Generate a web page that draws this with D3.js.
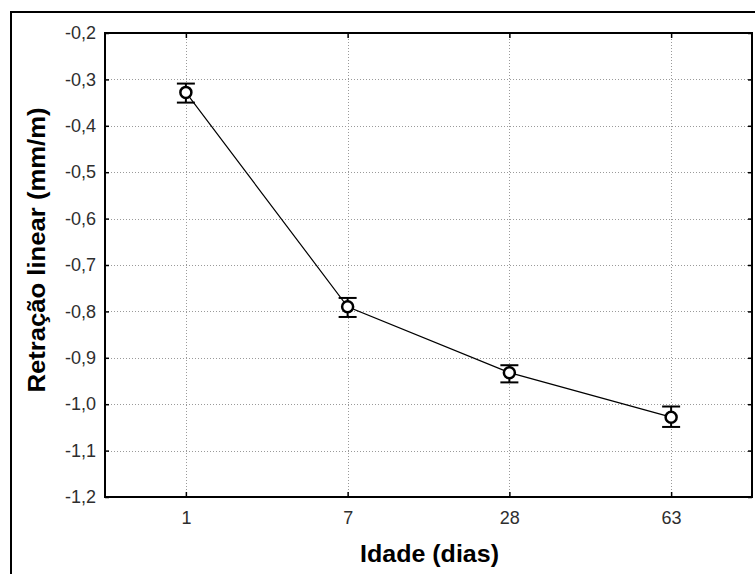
<!DOCTYPE html>
<html>
<head>
<meta charset="utf-8">
<script src="https://cdn.jsdelivr.net/npm/d3@7"></script>
<style>
  html, body { margin: 0; padding: 0; background: #fff; }
  svg { display: block; }
</style>
</head>
<body>
<svg id="chart" width="755" height="574"></svg>
<script>
// Linear shrinkage by age: mean with error interval
const ages = ["1", "7", "28", "63"];
const meanShrinkage = [-0.328, -0.790, -0.932, -1.028];
const lowerBound = [-0.350, -0.812, -0.953, -1.049];
const upperBound = [-0.309, -0.771, -0.916, -1.005];
const yTicks = [-0.2, -0.3, -0.4, -0.5, -0.6, -0.7, -0.8, -0.9, -1.0, -1.1, -1.2];
const yTickLabels = ["-0,2", "-0,3", "-0,4", "-0,5", "-0,6", "-0,7", "-0,8", "-0,9", "-1,0", "-1,1", "-1,2"];

const svg = d3.select("#chart");
const plotLeft = 105, plotTop = 33, plotRight = 752, plotBottom = 497;

const x = d3.scalePoint().domain(ages).range([plotLeft, plotRight]).padding(0.5);
const y = d3.scaleLinear().domain([-1.2, -0.2]).range([plotBottom, plotTop]);

// outer frame
svg.append("path")
  .attr("d", `M11,580 L11,12 L760,12`)
  .attr("fill", "none").attr("stroke", "#000").attr("stroke-width", 2);

// grid
const grid = svg.append("g").attr("stroke", "#9a9a9a").attr("stroke-width", 1)
  .attr("stroke-dasharray", "1,2");
grid.selectAll(".gy").data(yTicks.slice(1, -1)).join("line")
  .attr("x1", plotLeft).attr("x2", plotRight)
  .attr("y1", d => Math.round(y(d)) + 0.5).attr("y2", d => Math.round(y(d)) + 0.5);
grid.selectAll(".gx").data(ages).join("line")
  .attr("y1", plotTop).attr("y2", plotBottom)
  .attr("x1", d => Math.round(x(d)) + 0.5).attr("x2", d => Math.round(x(d)) + 0.5);

// axes with inward ticks on all four sides
const tickLabelFor = d => yTickLabels[yTicks.findIndex(v => Math.abs(v - d) < 1e-9)];
const yAxis = d3.axisLeft(y).tickValues(yTicks).tickFormat(tickLabelFor).tickSizeInner(-4).tickSizeOuter(0).tickPadding(9);
const xAxis = d3.axisBottom(x).tickSizeInner(-5).tickSizeOuter(0).tickPadding(14);

function styleAxis(g, showText) {
  g.select(".domain").remove();
  g.selectAll(".tick line").attr("stroke", "#000").attr("stroke-width", 1.5);
  g.selectAll(".tick text")
    .attr("fill", "#2e2e2e")
    .style("font-family", "Arial, 'Liberation Sans', sans-serif")
    .style("font-size", "18px")
    .style("display", showText ? null : "none");
}

svg.append("g").attr("transform", `translate(${plotLeft},0)`).call(yAxis).call(g => styleAxis(g, true));
svg.append("g").attr("transform", `translate(${plotRight},0)`)
  .call(d3.axisRight(y).tickValues(yTicks).tickSizeInner(-4).tickSizeOuter(0)).call(g => styleAxis(g, false));
svg.append("g").attr("transform", `translate(0,${plotBottom})`).call(xAxis).call(g => styleAxis(g, true));
svg.append("g").attr("transform", `translate(0,${plotTop})`)
  .call(d3.axisTop(x).tickSizeInner(-5).tickSizeOuter(0)).call(g => styleAxis(g, false));

// plot frame
svg.append("rect")
  .attr("x", plotLeft).attr("y", plotTop).attr("width", plotRight - plotLeft).attr("height", plotBottom - plotTop)
  .attr("fill", "none").attr("stroke", "#000").attr("stroke-width", 2);

// connecting line
const pts = ages.map((a, i) => ({ a, m: meanShrinkage[i], lo: lowerBound[i], hi: upperBound[i] }));
svg.append("path").datum(pts)
  .attr("fill", "none").attr("stroke", "#000").attr("stroke-width", 1.2)
  .attr("d", d3.line().x(d => x(d.a)).y(d => y(d.m)));

// error bars
const eb = svg.append("g").attr("stroke", "#000").attr("stroke-width", 2);
eb.selectAll(".v").data(pts).join("line")
  .attr("x1", d => x(d.a)).attr("x2", d => x(d.a))
  .attr("y1", d => y(d.lo)).attr("y2", d => y(d.hi));
eb.selectAll(".lo").data(pts).join("line")
  .attr("x1", d => x(d.a) - 9).attr("x2", d => x(d.a) + 9)
  .attr("y1", d => y(d.lo)).attr("y2", d => y(d.lo));
eb.selectAll(".hi").data(pts).join("line")
  .attr("x1", d => x(d.a) - 9).attr("x2", d => x(d.a) + 9)
  .attr("y1", d => y(d.hi)).attr("y2", d => y(d.hi));

// markers
svg.selectAll(".pt").data(pts).join("circle")
  .attr("cx", d => x(d.a)).attr("cy", d => y(d.m)).attr("r", 5.5)
  .attr("fill", "#fff").attr("stroke", "#000").attr("stroke-width", 2.5);

// axis titles
svg.append("text")
  .attr("x", (plotLeft + plotRight) / 2 + 1).attr("y", 562)
  .attr("text-anchor", "middle")
  .style("font-family", "Arial, 'Liberation Sans', sans-serif")
  .style("font-weight", "bold").style("font-size", "24px")
  .attr("textLength", 139).attr("lengthAdjust", "spacingAndGlyphs")
  .text("Idade (dias)");
svg.append("text")
  .attr("transform", `translate(45,${(plotTop + plotBottom) / 2 - 15}) rotate(-90)`)
  .attr("text-anchor", "middle")
  .style("font-family", "Arial, 'Liberation Sans', sans-serif")
  .style("font-weight", "bold").style("font-size", "23px")
  .attr("textLength", 285).attr("lengthAdjust", "spacingAndGlyphs")
  .text("Retração linear (mm/m)");
</script>
</body>
</html>
